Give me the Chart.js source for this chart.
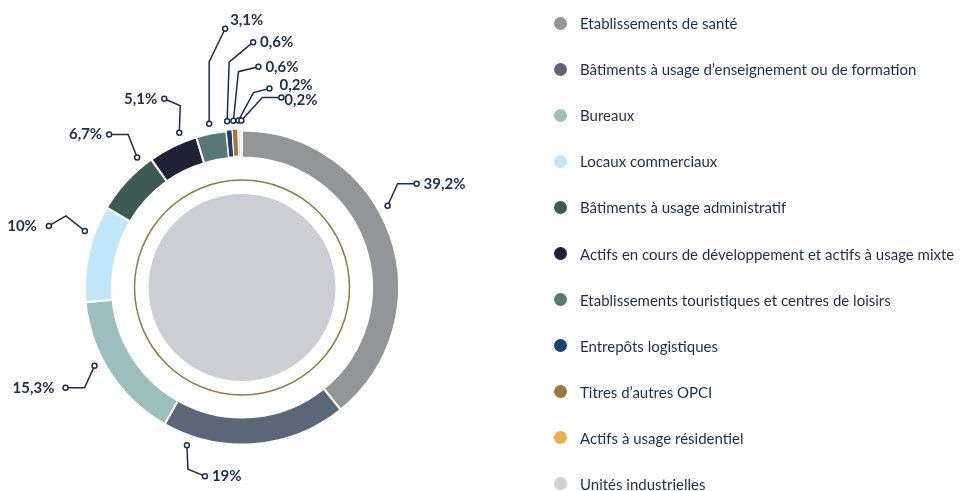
<!DOCTYPE html>
<html lang="fr">
<head>
<meta charset="utf-8">
<script src="https://cdn.jsdelivr.net/npm/chart.js@4.4.0/dist/chart.umd.min.js"></script>
<style>
  html, body { margin: 0; padding: 0; background: #ffffff; }
  #wrap { position: relative; width: 960px; height: 491px; overflow: hidden; }
  #legend { position: absolute; left: 554px; top: 0; margin: 0; padding: 0; list-style: none;
    font-family: 'Lato', sans-serif; font-size: 15px; color: #1e2d4f; }
  #legend li { display: flex; align-items: center; height: 46.1px; white-space: nowrap; }
  #legend .dot { width: 13px; height: 13px; border-radius: 50%; margin-right: 13px; flex: none; }
</style>
</head>
<body>
<div id="wrap">
  <canvas id="chart" width="960" height="491"></canvas>
  <ul id="legend"></ul>
</div>
<script>
// Répartition par typologie d'actifs (%)
const categories = [
  'Etablissements de santé',
  'Bâtiments à usage d\u2019enseignement ou de formation',
  'Bureaux',
  'Locaux commerciaux',
  'Bâtiments à usage administratif',
  'Actifs en cours de développement et actifs à usage mixte',
  'Etablissements touristiques et centres de loisirs',
  'Entrepôts logistiques',
  'Titres d\u2019autres OPCI',
  'Actifs à usage résidentiel',
  'Unités industrielles'
];
const shares = [39.2, 19, 15.3, 10, 6.7, 5.1, 3.1, 0.6, 0.6, 0.2, 0.2];
const sliceColors = ['#939598', '#5b6779', '#9bbfbf', '#bfe6fa', '#3e5a55', '#1f2236',
  '#577778', '#1a3f73', '#9a7a3f', '#e9ae4e', '#d2d1da'];
// thinner separators and a small pull-out so the tiny slices stay visible
const sliceBorders = [2, 2, 2, 2, 2, 2, 2, 1, 1, 1, 1];
const sliceOffsets = [0, 0, 0, 0, 0, 0, 0, 2, 3, 2, 2];

const NAVY = '#1e2d4f';

// leader line layout for each slice label (t = position along the slice)
const leaderLayout = [
  { t: 0.43, elbow: [10, -22], end: [19, 0] },
  { t: 0.85, elbow: [1, 24], end: [17, 7] },
  { t: 0.59, elbow: [-10, 22], end: [-19, 0], gap: 11 },
  { t: 0.70, elbow: [-19, -15], end: [-17, 10], gap: 12 },
  { t: 0.85, elbow: [-9, -23], end: [-19, 0] },
  { t: 0.72, elbow: [1, -27], end: [-16, -7] },
  { t: 0.5, elbow: [0, -62], end: [16, -33], textDy: -9, gap: 5 },
  { t: 0.3, elbow: [2, -59], end: [24, -20] },
  { t: 0.3, elbow: [5, -49], end: [20, -5] },
  { t: 0.3, elbow: [15, -28], end: [16, -4], textDy: -3, gap: 10 },
  { t: 0.7, elbow: [21, -23], end: [19, 0], textDy: 3, gap: 3 }
];

function fmtPct(v) {
  return v.toLocaleString('fr-FR') + '%';
}

// draws the percentage callouts with their leader lines
const leaderLabels = {
  id: 'leaderLabels',
  afterDatasetsDraw(chart) {
    const ctx = chart.ctx;
    const arcs = chart.getDatasetMeta(0).data;
    ctx.save();
    ctx.font = "bold 15px 'Lato', sans-serif";
    ctx.textBaseline = 'middle';
    arcs.forEach((arc, i) => {
      const lay = leaderLayout[i];
      const p = arc.getProps(['x', 'y', 'startAngle', 'endAngle', 'outerRadius'], true);
      const a = p.startAngle + lay.t * (p.endAngle - p.startAngle);
      const r = p.outerRadius + 10;
      const ax = p.x + Math.cos(a) * r;
      const ay = p.y + Math.sin(a) * r;
      const ex = ax + lay.elbow[0], ey = ay + lay.elbow[1];
      const fx = ex + lay.end[0], fy = ey + lay.end[1];

      ctx.strokeStyle = NAVY;
      ctx.lineWidth = 1.5;
      ctx.beginPath();
      ctx.moveTo(ax, ay);
      ctx.lineTo(ex, ey);
      ctx.lineTo(fx, fy);
      ctx.stroke();

      [[ax, ay], [fx, fy]].forEach(([x, y]) => {
        ctx.beginPath();
        ctx.arc(x, y, 2.5, 0, Math.PI * 2);
        ctx.fillStyle = '#ffffff';
        ctx.fill();
        ctx.stroke();
      });

      const gap = lay.gap !== undefined ? lay.gap : 7;
      const toRight = lay.end[0] >= 0;
      ctx.fillStyle = NAVY;
      ctx.textAlign = toRight ? 'left' : 'right';
      ctx.fillText(fmtPct(shares[i]), fx + (toRight ? gap : -gap), fy + (lay.textDy || 0));
    });
    ctx.restore();
  }
};

// html legend built from chart legend items
const htmlLegend = {
  id: 'htmlLegend',
  afterUpdate(chart) {
    const ul = document.getElementById('legend');
    ul.innerHTML = '';
    const items = chart.options.plugins.legend.labels.generateLabels(chart);
    items.forEach(item => {
      const li = document.createElement('li');
      const dot = document.createElement('span');
      dot.className = 'dot';
      dot.style.background = item.fillStyle;
      const txt = document.createElement('span');
      txt.textContent = item.text;
      li.appendChild(dot);
      li.appendChild(txt);
      ul.appendChild(li);
    });
  }
};

new Chart(document.getElementById('chart'), {
  type: 'doughnut',
  data: {
    labels: categories,
    datasets: [
      {
        data: shares,
        backgroundColor: sliceColors,
        borderColor: '#ffffff',
        borderWidth: sliceBorders,
        offset: sliceOffsets,
        weight: 27
      },
      { data: [1], backgroundColor: 'rgba(0,0,0,0)', borderWidth: 0, weight: 21.75 },
      { data: [1], backgroundColor: '#8f7b46', borderWidth: 0, weight: 1.5 },
      { data: [1], backgroundColor: 'rgba(0,0,0,0)', borderWidth: 0, weight: 13.25 },
      { data: [1], backgroundColor: '#cdcdd5', borderWidth: 0, weight: 93.5 }
    ]
  },
  options: {
    responsive: false,
    animation: false,
    devicePixelRatio: 1,
    cutout: 0,
    radius: 157,
    events: [],
    layout: {
      padding: { left: 0, right: 476, top: 84, bottom: 0 }
    },
    plugins: {
      legend: { display: false },
      tooltip: { enabled: false }
    }
  },
  plugins: [leaderLabels, htmlLegend]
});
</script>
</body>
</html>
